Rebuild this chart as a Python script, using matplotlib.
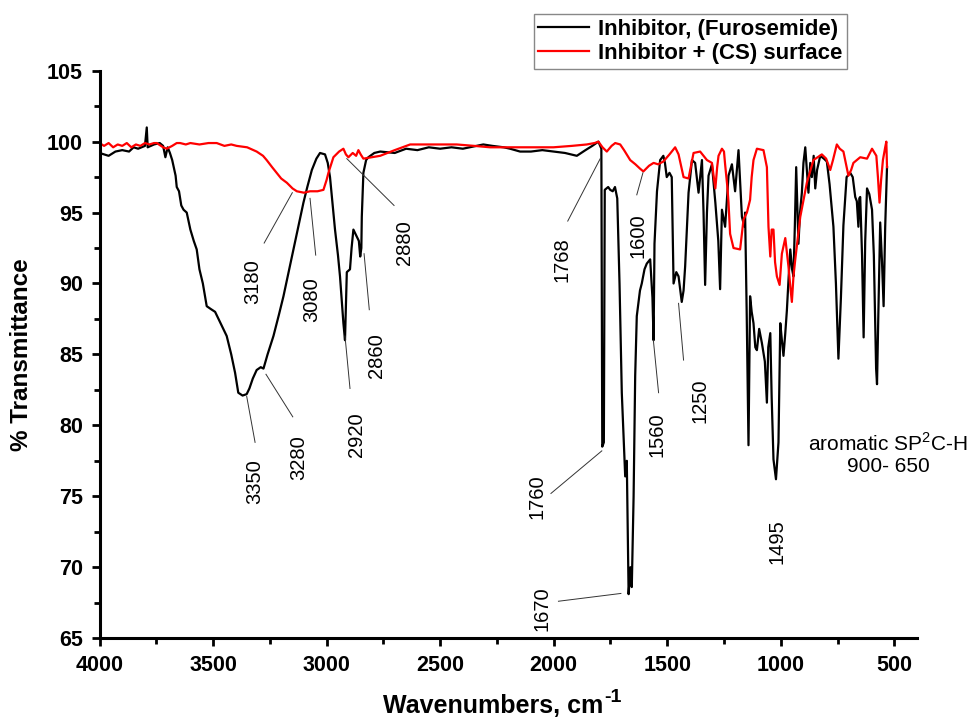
import numpy as np
import matplotlib.pyplot as plt
from matplotlib.ticker import MultipleLocator

plt.rcParams['font.family'] = ['Liberation Sans', 'DejaVu Sans']
plt.rcParams['mathtext.fontset'] = 'custom'
plt.rcParams['mathtext.rm'] = 'Liberation Sans'
plt.rcParams['mathtext.bf'] = 'Liberation Sans:bold'

# FTIR spectrum of the pure inhibitor (black)
wn_inh = [4000, 3960, 3930, 3900, 3870, 3850, 3830, 3800, 3792, 3788, 3760, 3735, 3720, 3710, 3700,
          3690, 3680, 3665, 3660, 3650, 3640, 3630, 3616, 3600, 3585, 3572, 3560, 3545, 3528, 3510,
          3491, 3470, 3440, 3420, 3403, 3389, 3370, 3352, 3340, 3325, 3308, 3290, 3278, 3260, 3234,
          3210, 3190, 3170, 3146, 3125, 3102, 3085, 3065, 3045, 3029, 3007, 2995, 2985, 2973, 2963,
          2950, 2941, 2930, 2926, 2919, 2914, 2911, 2897, 2890, 2882, 2867, 2858, 2852, 2847, 2845,
          2838, 2826, 2816, 2790, 2764, 2700, 2650, 2600, 2550, 2500, 2450, 2400, 2340, 2310, 2270,
          2220, 2192, 2148, 2100, 2050, 2000, 1950, 1898, 1860, 1830, 1803, 1790, 1786, 1779, 1775,
          1760, 1751, 1740, 1730, 1720, 1710, 1700, 1685, 1678, 1670, 1662, 1656, 1648, 1641, 1634,
          1620, 1612, 1600, 1590, 1575, 1565, 1560, 1556, 1545, 1531, 1517, 1510, 1502, 1490, 1480,
          1475, 1472, 1460, 1450, 1436, 1428, 1421, 1406, 1391, 1377, 1362, 1347, 1340, 1333, 1325,
          1318, 1303, 1288, 1275, 1267, 1259, 1245, 1230, 1215, 1201, 1186, 1171, 1160, 1157, 1150,
          1142, 1138, 1135, 1128, 1120, 1112, 1105, 1095, 1083, 1070, 1061, 1055, 1046, 1040, 1032,
          1021, 1010, 1002, 995, 988, 980, 973, 965, 958, 950, 944, 938, 932, 927, 922,
          915, 907, 900, 892, 885, 878, 870, 863, 855, 848, 840, 826, 810, 797, 785,
          768, 757, 746, 735, 724, 710, 694, 683, 672, 665, 658, 654, 650, 642, 635,
          628, 620, 610, 598, 590, 580, 576, 570, 562, 554, 547, 540, 532]
t_inh = [99.2, 99.0, 99.3, 99.4, 99.3, 99.6, 99.5, 99.7, 101.0, 99.6, 99.8, 99.9, 99.7, 98.9, 99.6,
         99.2, 98.7, 97.6, 96.8, 96.5, 95.5, 95.2, 95.0, 93.8, 93.0, 92.4, 91.0, 90.0, 88.4, 88.2,
         88.0, 87.3, 86.3, 85.0, 83.7, 82.3, 82.1, 82.2, 82.6, 83.3, 83.9, 84.1, 84.0, 85.0, 86.3,
         87.8, 89.1, 90.6, 92.4, 94.0, 95.7, 96.8, 98.0, 98.8, 99.2, 99.1, 98.5, 97.5, 95.5, 93.8,
         92.0, 90.5, 88.0, 87.2, 86.0, 89.0, 90.8, 91.0, 92.5, 93.8, 93.3, 93.0, 91.9, 92.5, 94.7,
         97.8, 98.7, 98.9, 99.2, 99.3, 99.2, 99.5, 99.4, 99.6, 99.5, 99.6, 99.5, 99.7, 99.8, 99.7,
         99.6, 99.5, 99.3, 99.3, 99.4, 99.3, 99.2, 99.0, 99.4, 99.7, 100.0, 99.5, 78.5, 78.8, 96.6,
         96.8, 96.6, 96.5, 96.8, 96.0, 90.0, 82.3, 76.4, 77.5, 68.1, 70.0, 68.6, 75.0, 83.5, 87.7,
         89.5, 90.0, 91.0, 91.4, 91.7, 89.0, 86.0, 92.8, 96.5, 98.7, 99.0, 98.5, 97.5, 97.8, 97.5,
         93.0, 90.0, 90.8, 90.5, 88.7, 89.5, 91.2, 96.4, 98.7, 98.5, 96.4, 98.7, 95.0, 89.9, 95.0,
         97.6, 98.4, 95.7, 93.0, 89.6, 95.2, 94.0, 97.6, 98.4, 96.5, 99.4, 94.7, 94.0, 95.0, 88.0,
         78.6, 85.0, 89.1, 88.0, 87.2, 85.5, 85.3, 86.8, 85.8, 84.5, 81.6, 85.5, 86.5, 82.0, 77.6,
         76.2, 78.8, 87.2, 86.0, 84.9, 86.5, 88.1, 90.5, 92.4, 91.0, 90.5, 94.0, 98.2, 95.5, 92.8,
         95.0, 96.4, 98.5, 99.6, 98.0, 96.4, 98.5, 97.5, 99.0, 96.7, 98.0, 99.0, 98.8, 98.6, 97.0,
         94.0, 90.0, 84.7, 89.0, 94.1, 97.5, 97.8, 97.5, 96.1, 95.8, 94.0, 96.0, 96.1, 92.0, 86.2,
         93.0, 96.7, 96.3, 95.2, 92.0, 84.0, 82.9, 88.0, 94.3, 91.5, 88.4, 94.0, 98.2]

# FTIR spectrum of the inhibitor adsorbed on carbon steel (red)
wn_cs = [4000, 3980, 3960, 3940, 3920, 3900, 3880, 3860, 3840, 3820, 3800, 3780, 3760, 3748, 3720,
         3704, 3680, 3660, 3645, 3620, 3600, 3560, 3520, 3484, 3450, 3420, 3396, 3350, 3308, 3280,
         3264, 3240, 3220, 3200, 3175, 3150, 3131, 3100, 3073, 3040, 3014, 3000, 2992, 2980, 2970,
         2945, 2926, 2915, 2904, 2885, 2870, 2860, 2850, 2838, 2800, 2764, 2700, 2632, 2550, 2480,
         2427, 2350, 2280, 2192, 2148, 2050, 2001, 1920, 1854, 1820, 1803, 1785, 1766, 1745, 1729,
         1707, 1690, 1663, 1640, 1620, 1605, 1580, 1560, 1540, 1517, 1490, 1465, 1450, 1443, 1428,
         1406, 1395, 1384, 1355, 1340, 1325, 1303, 1295, 1288, 1280, 1274, 1259, 1250, 1245, 1235,
         1230, 1223, 1208, 1179, 1164, 1149, 1135, 1128, 1120, 1105, 1076, 1061, 1054, 1046, 1040,
         1032, 1025, 1017, 1005, 995, 980, 966, 958, 951, 944, 936, 914, 885, 856, 819,
         800, 782, 770, 753, 740, 724, 702, 690, 680, 650, 620, 598, 579, 572, 565,
         558, 550, 540, 535, 532]
t_cs = [99.9, 99.7, 99.9, 99.6, 99.8, 99.7, 99.9, 99.6, 99.8, 99.7, 99.9, 99.8, 99.9, 99.9, 99.6,
        99.5, 99.7, 99.9, 99.9, 99.8, 99.9, 99.8, 99.9, 99.9, 99.7, 99.8, 99.7, 99.6, 99.3, 99.0,
        98.7, 98.2, 97.8, 97.4, 97.1, 96.7, 96.5, 96.4, 96.5, 96.5, 96.6, 97.3, 97.8, 98.4, 98.9,
        99.3, 99.5, 99.1, 98.9, 99.2, 99.0, 99.4, 99.1, 98.8, 98.9, 99.0, 99.4, 99.8, 99.8, 99.8,
        99.8, 99.7, 99.6, 99.6, 99.6, 99.6, 99.6, 99.7, 99.8, 99.9, 100.0, 99.6, 99.3, 99.7, 99.9,
        99.8, 99.4, 98.7, 98.4, 98.1, 97.9, 98.3, 98.5, 98.4, 98.6, 99.1, 99.6, 99.1, 98.6, 97.5,
        97.4, 98.3, 99.2, 99.3, 99.0, 98.7, 98.5, 97.5, 96.7, 98.2, 99.0, 99.5, 99.3, 98.4, 96.8,
        95.7, 93.5, 92.5, 92.4, 94.5, 95.0, 95.9, 97.5, 98.7, 99.5, 99.4, 98.2, 94.0, 91.9, 93.8,
        93.8, 91.5, 90.5, 89.9, 92.1, 93.2, 91.2, 89.8, 88.7, 90.5, 91.7, 94.7, 97.1, 98.7, 99.1,
        98.8, 98.0, 98.7, 99.8, 99.5, 99.3, 97.6, 98.0, 98.5, 98.9, 98.8, 99.5, 99.0, 97.5, 95.7,
        97.3, 98.7, 99.6, 100.0, 98.2]

# peak labels: text, text position, leader line (from, to)
peak_labels = ['3180', '3080', '2880', '2860', '2920', '3350', '3280',
               '1768', '1600', '1560', '1250', '1760', '1670', '1495']
label_pos = [(3327, 90.1), (3065, 88.85), (2659, 92.85), (2779, 84.9), (2867, 79.35),
             (3315, 76.0), (3121, 77.7), (1964, 91.7), (1627, 93.4), (1545, 79.35),
             (1355, 81.7), (2074, 75.0), (2052, 67.1), (1017, 71.8)]
leaders = [((3275, 92.85), (3151, 96.4)), ((3048, 92.0), (3073, 96.0)),
           ((2703, 95.5), (2911, 98.8)), ((2812, 88.15), (2835, 92.1)),
           ((2897, 82.6), (2919, 86.3)), ((3315, 78.8), (3352, 82.05)),
           ((3149, 80.6), (3267, 83.6)), ((1938, 94.4), (1795, 98.8)),
           ((1634, 96.25), (1607, 97.8)), ((1538, 82.3), (1561, 86.0)),
           ((1428, 84.6), (1450, 88.6)), ((2012, 75.2), (1788, 78.2)),
           ((1979, 67.6), (1704, 68.15)), None]

fig = plt.figure(figsize=(9.72, 7.17), dpi=100)
ax = fig.add_axes([0.1024, 0.110, 0.841, 0.7914])

ax.plot(wn_inh, t_inh, color='black', lw=1.6, label='Inhibitor, (Furosemide)')
ax.plot(wn_cs, t_cs, color='#ff0000', lw=1.6, label='Inhibitor + (CS) surface')

for txt, pos, ld in zip(peak_labels, label_pos, leaders):
    ax.text(pos[0], pos[1], txt, rotation=90, ha='center', va='center', fontsize=14.5)
    if ld is not None:
        ax.plot([ld[0][0], ld[1][0]], [ld[0][1], ld[1][1]], color='#333333', lw=0.7)

ax.text(527, 78.0, 'aromatic SP$^2$C-H\n900- 650', ha='center', va='center',
        fontsize=15, linespacing=1.15)

ax.set_xlim(4000, 400)
ax.set_ylim(65, 105)
ax.xaxis.set_major_locator(MultipleLocator(500))
ax.xaxis.set_minor_locator(MultipleLocator(250))
ax.yaxis.set_major_locator(MultipleLocator(5))
ax.yaxis.set_minor_locator(MultipleLocator(2.5))
ax.spines['top'].set_visible(False)
ax.spines['right'].set_visible(False)
for s in ['left', 'bottom']:
    ax.spines[s].set_linewidth(2.2)
ax.tick_params(which='major', direction='out', length=6, width=2, pad=6, labelsize=15.5)
ax.tick_params(which='minor', direction='out', length=4, width=2)
for lab in ax.get_xticklabels() + ax.get_yticklabels():
    lab.set_fontweight('bold')

ax.set_xlabel('Wavenumbers, cm', fontsize=18, fontweight='bold')
ax.xaxis.set_label_coords(0.481, -0.099)
ax.annotate('-1', xy=(1.0, 1.0), xycoords=ax.xaxis.label, xytext=(1, -5.5),
            textcoords='offset points', ha='left', va='baseline', fontsize=14, fontweight='bold')
ax.set_ylabel('% Transmittance', fontsize=17.5, fontweight='bold', labelpad=10)

leg = fig.legend(loc='upper left', bbox_to_anchor=(0.549, 0.98), borderaxespad=0,
                 prop={'weight': 'bold', 'size': 16}, fancybox=False, framealpha=1,
                 edgecolor='#888888', handlelength=2.3, handletextpad=0.4,
                 labelspacing=0.15, borderpad=0.2)
leg.get_frame().set_linewidth(1.0)

plt.savefig('out.png', dpi=100)
